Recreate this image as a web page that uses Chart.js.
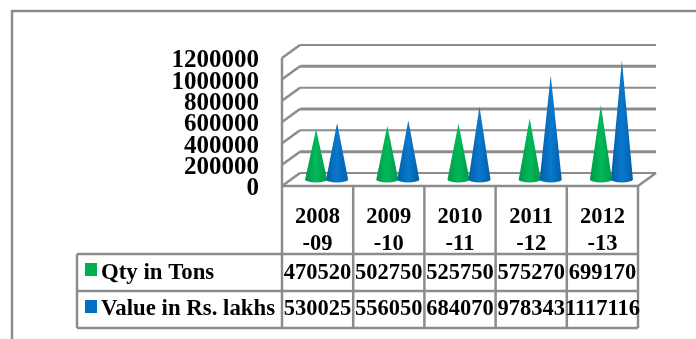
<!DOCTYPE html>
<html>
<head>
<meta charset="utf-8">
<style>
  html, body { margin: 0; padding: 0; background: #fff; overflow: hidden; }
  #wrap { width: 696px; height: 339px; }
</style>
</head>
<body>
<div id="wrap"><canvas id="coneChart" width="696" height="339"></canvas></div>

<script src="https://cdn.jsdelivr.net/npm/chart.js"></script>
<script>
  const categories = [['2008', '-09'], ['2009', '-10'], ['2010', '-11'], ['2011', '-12'], ['2012', '-13']];
  const qtyLabel = 'Qty in Tons';
  const valueLabel = 'Value in Rs. lakhs';
  const qtyTons = [470520, 502750, 525750, 575270, 699170];
  const valueLakhs = [530025, 556050, 684070, 978343, 1117116];

  const FONT = '"Liberation Serif", "Times New Roman", serif';
  const GREY = '#8c8c8c';
  const GREEN = '#00b050';
  const BLUE = '#0070c0';
  const DEPTH_X = 18;
  const DEPTH_Y = 13;

  function line(ctx, x1, y1, x2, y2, width) {
    ctx.lineWidth = width;
    ctx.beginPath();
    ctx.moveTo(x1, y1);
    ctx.lineTo(x2, y2);
    ctx.stroke();
  }

  // back wall, side wall and floor of the 3D box
  const wallsPlugin = {
    id: 'walls',
    beforeDatasetsDraw(chart) {
      const { ctx, chartArea: a, scales: { y } } = chart;
      ctx.save();
      ctx.strokeStyle = GREY;
      y.ticks.forEach((t, i) => {
        const py = y.getPixelForValue(t.value);
        line(ctx, a.left + DEPTH_X, py - DEPTH_Y, a.right + DEPTH_X, py - DEPTH_Y, i % 2 ? 3 : 2);
        line(ctx, a.left, py, a.left + DEPTH_X, py - DEPTH_Y, 2.5);
      });
      line(ctx, a.left, a.top, a.left, a.bottom, 2.5);
      line(ctx, a.right, a.bottom, a.right + DEPTH_X, a.bottom - DEPTH_Y, 2.5);
      ctx.restore();
    }
  };

  // the bars stay invisible, a cone is painted on each bar's position
  const conePlugin = {
    id: 'cones',
    afterDatasetsDraw(chart) {
      const { ctx } = chart;
      chart.data.datasets.forEach((ds, i) => {
        chart.getDatasetMeta(i).data.forEach(bar => {
          const cx = bar.x + DEPTH_X / 2;
          const tip = bar.y - DEPTH_Y / 2;
          const base = bar.base - DEPTH_Y / 2;
          const r = 11;
          const grad = ctx.createLinearGradient(cx - r, 0, cx + r, 0);
          grad.addColorStop(0, ds.coneEdge);
          grad.addColorStop(0.5, ds.coneColor);
          grad.addColorStop(1, ds.coneEdge);
          ctx.save();
          ctx.fillStyle = grad;
          ctx.beginPath();
          ctx.moveTo(cx, tip);
          ctx.lineTo(cx + r, base);
          ctx.ellipse(cx, base, r, 3, 0, 0, Math.PI);
          ctx.closePath();
          ctx.fill();
          ctx.restore();
        });
      });
    }
  };

  // page frame, y labels and the data table under the axis
  const tablePlugin = {
    id: 'dataTable',
    afterDraw(chart) {
      const { ctx, chartArea: a, scales: { x, y } } = chart;
      const rows = [273, 309];
      const rowLines = [254, 291, 328];
      const colW = (a.right - a.left) / categories.length;
      ctx.save();
      ctx.strokeStyle = GREY;
      line(ctx, 12, 11, 696, 11, 2.5);
      line(ctx, 12, 10, 12, 339, 2.5);

      line(ctx, a.left, a.bottom, a.right, a.bottom, 2.5);
      for (let i = 0; i <= categories.length; i++) {
        line(ctx, a.left + colW * i, a.bottom, a.left + colW * i, rowLines[2], 2.5);
      }
      rowLines.forEach(ly => line(ctx, 77, ly, a.right, ly, 2.5));
      line(ctx, 77, rowLines[0], 77, rowLines[2], 2.5);

      ctx.fillStyle = GREEN;
      ctx.fillRect(85, 263, 12, 13);
      ctx.fillStyle = BLUE;
      ctx.fillRect(85, 300, 12, 13);

      ctx.fillStyle = '#000';
      ctx.textBaseline = 'middle';

      // the axis labels sit a little below their tick in the original
      ctx.font = 'bold 25px ' + FONT;
      ctx.textAlign = 'right';
      y.ticks.forEach(t => ctx.fillText(t.label, 259, y.getPixelForValue(t.value) + 3));

      ctx.font = 'bold 22.8px ' + FONT;
      ctx.textAlign = 'left';
      ctx.fillText(qtyLabel, 101, rows[0]);
      ctx.fillText(valueLabel, 101, rows[1]);
      ctx.font = 'bold 22.5px ' + FONT;
      ctx.textAlign = 'center';
      categories.forEach((c, i) => {
        const cx = x.getPixelForValue(i);
        ctx.fillText(qtyTons[i], cx, rows[0]);
        ctx.fillText(valueLakhs[i], cx, rows[1]);
      });
      ctx.restore();
    }
  };

  new Chart(document.getElementById('coneChart'), {
    type: 'bar',
    data: {
      labels: categories,
      datasets: [
        { label: qtyLabel, data: qtyTons, backgroundColor: 'transparent', coneColor: '#00b85a', coneEdge: '#009a48' },
        { label: valueLabel, data: valueLakhs, backgroundColor: 'transparent', coneColor: '#0a78cc', coneEdge: '#005fa8' }
      ]
    },
    plugins: [wallsPlugin, conePlugin, tablePlugin],
    options: {
      responsive: false,
      animation: false,
      layout: { padding: { top: 58, right: 58, left: 0, bottom: 0 } },
      categoryPercentage: 0.59,
      barPercentage: 1,
      plugins: { legend: { display: false }, tooltip: { enabled: false } },
      scales: {
        x: {
          grid: { display: false },
          border: { display: false },
          afterFit: scale => { scale.height = 153; },
          ticks: {
            color: '#000',
            padding: 10,
            maxRotation: 0,
            autoSkip: false,
            font: { family: FONT, size: 22.5, weight: 'bold', lineHeight: 1.2 }
          }
        },
        y: {
          min: 0,
          max: 1200000,
          grid: { display: false },
          border: { display: false },
          afterFit: scale => { scale.width = 282; },
          ticks: {
            stepSize: 200000,
            autoSkip: false,
            color: 'transparent',
            callback: v => String(v),
            font: { family: FONT, size: 25, weight: 'bold' }
          }
        }
      }
    }
  });
</script>
</body>
</html>
